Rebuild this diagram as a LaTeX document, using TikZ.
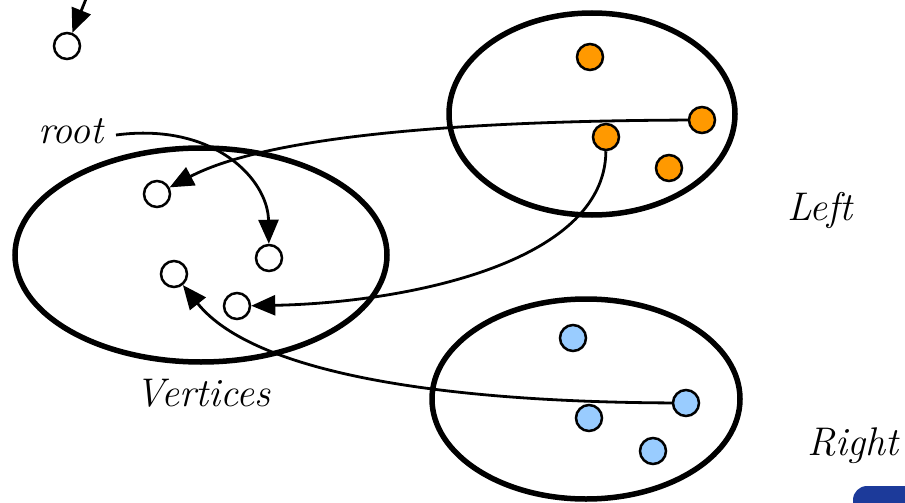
\documentclass[tikz,border=0pt]{standalone}
\usetikzlibrary{arrows.meta}
\definecolor{orangedot}{HTML}{FF9900}
\definecolor{bluedot}{HTML}{99CCFF}
\definecolor{logoblue}{HTML}{1C3A9A}
\begin{document}
\begin{tikzpicture}[x=1pt,y=-1pt,
  dot/.style={circle,draw=black,line width=2.5pt,minimum size=26pt,inner sep=0pt},
  wdot/.style={dot,fill=white},
  odot/.style={dot,fill=orangedot},
  bdot/.style={dot,fill=bluedot},
  setell/.style={draw=black,line width=5.5pt},
  conn/.style={draw=black,line width=2.8pt,-{Triangle[length=24pt,width=20pt]}},
  lab/.style={font=\fontsize{40}{44}\selectfont\itshape,inner sep=0pt}]
\useasboundingbox (0,0) rectangle (905,503);
% logo fragment
\begin{scope}
\clip (0,0) rectangle (905,503);
\fill[logoblue,rounded corners=14pt] (853,486) rectangle (960,540);
\end{scope}
% sets
\draw[setell] (201,255) ellipse [x radius=186,y radius=107];
\draw[setell] (592,114) ellipse [x radius=143,y radius=101];
\draw[setell] (586,399) ellipse [x radius=154,y radius=100];
% labels
\node[lab,anchor=east] (root) at (104,131) {root};
\node[lab] (lver) at (203,393) {Vertices};
\node[lab] (lleft) at (820,210) {Left};
\node[lab] (lright) at (853,446) {Right};
% dots
\node[wdot] (t) at (67,46) {};
\node[wdot] (w1) at (157,194) {};
\node[wdot] (w2) at (269,258) {};
\node[wdot] (w3) at (174,274) {};
\node[wdot] (w4) at (237,306) {};
\node[odot] (o1) at (590,57) {};
\node[odot] (o2) at (702,120) {};
\node[odot] (o3) at (606,137) {};
\node[odot] (o4) at (669,168) {};
\node[bdot] (b1) at (573,338) {};
\node[bdot] (b2) at (686,403) {};
\node[bdot] (b3) at (589,418) {};
\node[bdot] (b4) at (653,451) {};
% connectors
\coordinate (tin) at (88,-6);
\draw[conn] (tin) -- (t);
\draw[conn] ([xshift=12pt,yshift=-4pt]root.east) .. controls (215,122) and (268,180) .. (w2);
\draw[conn] (o2) .. controls (430,121) and (260,140) .. (w1);
\draw[conn] (o3) .. controls (605,265) and (400,303) .. (w4);
\draw[conn] (b2) .. controls (450,402) and (255,375) .. (w3);
\end{tikzpicture}
\end{document}
